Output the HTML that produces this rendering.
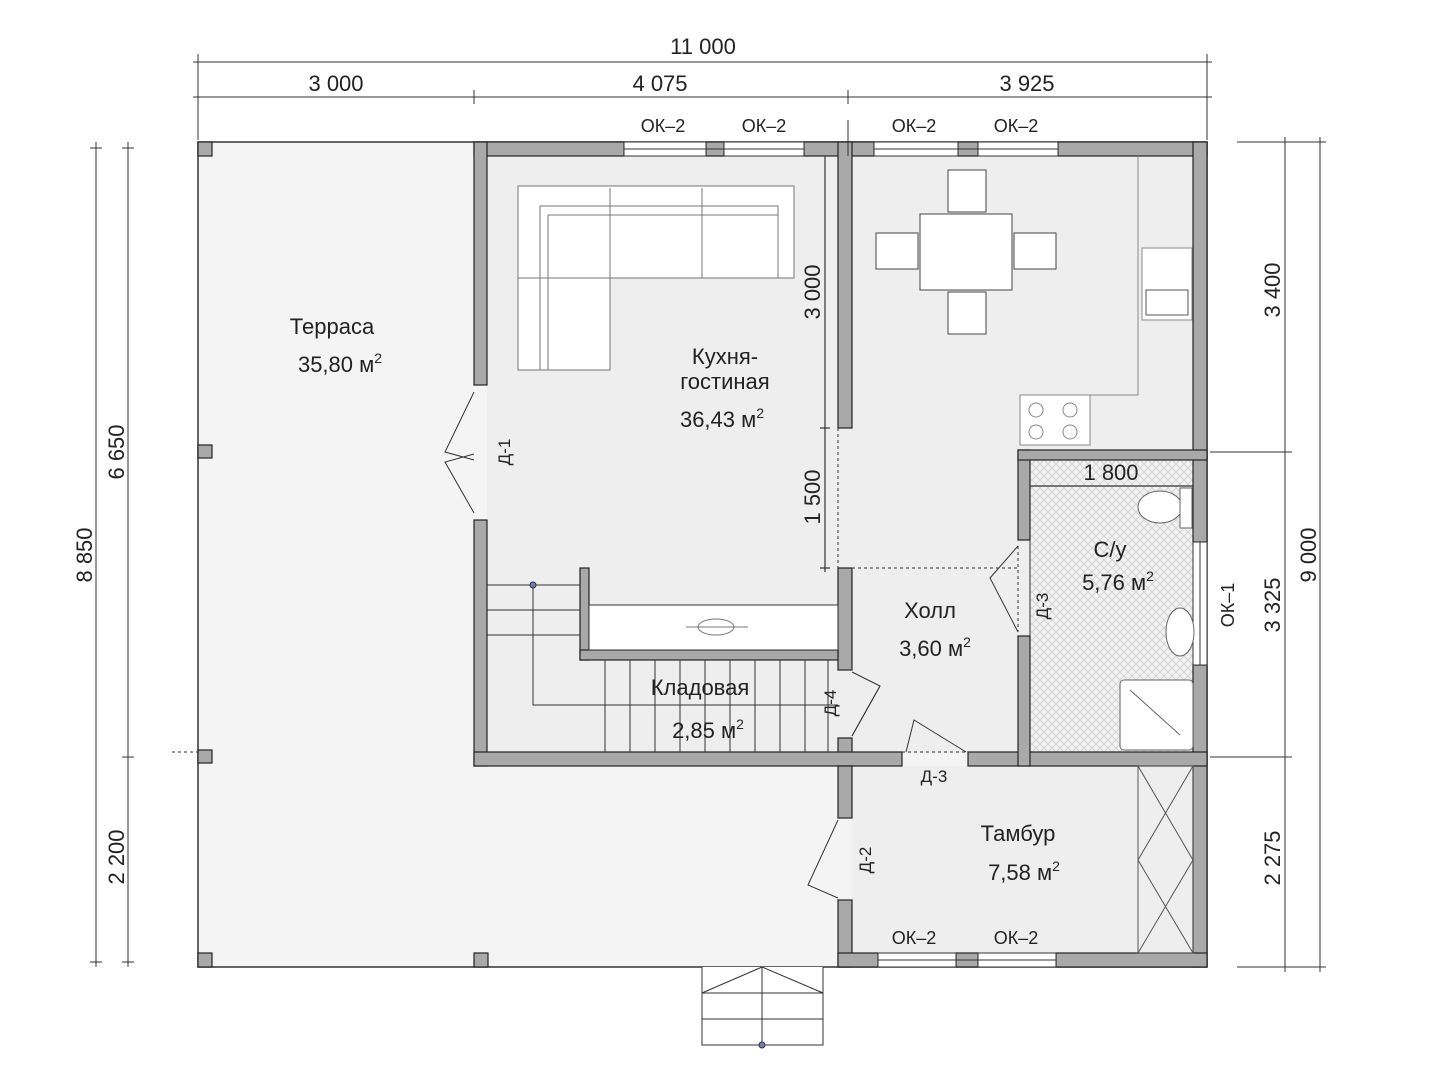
<!DOCTYPE html>
<html><head><meta charset="utf-8"><style>
body{margin:0;background:#fff}
svg{display:block}
text{font-family:"Liberation Sans",sans-serif;fill:#222}
</style></head><body>
<svg width="1440" height="1080" viewBox="0 0 1440 1080" xmlns="http://www.w3.org/2000/svg">
<defs>
<pattern id="hatch" width="8" height="8" patternUnits="userSpaceOnUse">
<rect width="8" height="8" fill="#f2f2f2"/>
<path d="M0 0L8 8M8 0L0 8" stroke="#c8c8c8" stroke-width="0.7"/>
</pattern>
</defs>
<rect x="198" y="142" width="1009" height="825" fill="#f4f4f4" stroke="#333" stroke-width="1.5"/>
<rect x="487" y="156" width="706" height="597" fill="#eeeeee"/>
<rect x="852" y="766" width="341" height="187" fill="#eeeeee"/>
<rect x="1030" y="460" width="163" height="292" fill="url(#hatch)"/>
<rect x="1030" y="460" width="163" height="292" fill="none" stroke="#333"/>
<g fill="#a9a9a9" stroke="#222" stroke-width="1.2">
<rect x="474" y="142" width="150" height="14"/>
<rect x="706" y="142" width="18" height="14"/>
<rect x="804" y="142" width="70" height="14"/>
<rect x="958" y="142" width="20" height="14"/>
<rect x="1058" y="142" width="149" height="14"/>
<rect x="474" y="142" width="13" height="243"/>
<rect x="474" y="520" width="13" height="246"/>
<rect x="1193" y="142" width="14" height="400"/>
<rect x="1193" y="665" width="14" height="302"/>
<rect x="838" y="142" width="14" height="286"/>
<rect x="838" y="568" width="14" height="102"/>
<rect x="838" y="738" width="14" height="28"/>
<rect x="474" y="752" width="428" height="14"/>
<rect x="968" y="752" width="239" height="14"/>
<rect x="1018" y="450" width="12" height="90"/>
<rect x="1018" y="450" width="189" height="10"/>
<rect x="1018" y="636" width="12" height="130"/>
<rect x="838" y="766" width="14" height="52"/>
<rect x="838" y="900" width="14" height="67"/>
<rect x="838" y="953" width="40" height="14"/>
<rect x="956" y="953" width="22" height="14"/>
<rect x="1056" y="953" width="151" height="14"/>
<rect x="580" y="568" width="9" height="92"/>
<rect x="580" y="650" width="258" height="10"/>
<rect x="198" y="142" width="14" height="14"/>
<rect x="198" y="445" width="14" height="13"/>
<rect x="198" y="750" width="14" height="13"/>
<rect x="198" y="953" width="14" height="14"/>
<rect x="474" y="953" width="14" height="14"/>
</g>
<g fill="#fff" stroke="#333" stroke-width="1">
<rect x="624" y="142" width="82" height="14"/><rect x="724" y="142" width="80" height="14"/>
<rect x="874" y="142" width="84" height="14"/><rect x="978" y="142" width="80" height="14"/>
<rect x="878" y="953" width="78" height="14"/><rect x="978" y="953" width="78" height="14"/>
<rect x="1193" y="542" width="14" height="123"/>
</g>
<g stroke="#333" stroke-width="1">
<line x1="624" y1="149" x2="804" y2="149"/><line x1="874" y1="149" x2="1058" y2="149"/>
<line x1="878" y1="960" x2="1056" y2="960"/><line x1="1200" y1="542" x2="1200" y2="665"/>
</g>
<g font-size="18" text-anchor="middle">
<text x="663" y="132">ОК–2</text><text x="764" y="132">ОК–2</text>
<text x="914" y="132">ОК–2</text><text x="1016" y="132">ОК–2</text>
<text x="914" y="944">ОК–2</text><text x="1016" y="944">ОК–2</text>
<text transform="translate(1234,605) rotate(-90)">ОК–1</text>
</g>
<g fill="none" stroke="#333" stroke-width="1">
<path d="M474 392 L445 452 L474 460"/><path d="M474 513 L445 462 L474 454"/>
<path d="M1018 546 L990 578 L1018 632"/>
<path d="M852 672 L880 686 L852 736"/><path d="M852 736 L880 686"/>
<path d="M906 752 L914 720 L966 752"/>
<path d="M838 820 L808 885 L838 898"/>
<line x1="838" y1="428" x2="838" y2="568" stroke-dasharray="3,3"/>
<line x1="852" y1="568" x2="1018" y2="568" stroke-dasharray="3,3"/>
<line x1="1018" y1="546" x2="1018" y2="632" stroke-dasharray="3,3"/>
<line x1="902" y1="752" x2="968" y2="752" stroke-dasharray="3,3"/>
<line x1="172" y1="752" x2="198" y2="752" stroke-dasharray="3,3"/>
</g>
<g font-size="17" text-anchor="middle">
<text transform="translate(510,452) rotate(-90)">Д-1</text>
<text transform="translate(1048,606) rotate(-90)">Д-3</text>
<text transform="translate(836,703) rotate(-90)">Д-4</text>
<text x="934" y="782">Д-3</text>
<text transform="translate(871,860) rotate(-90)">Д-2</text>
</g>
<g stroke="#333" stroke-width="1" fill="none">
<rect x="589" y="605" width="249" height="45" fill="#fff"/>
<line x1="487" y1="585" x2="580" y2="585"/><line x1="487" y1="610" x2="580" y2="610"/><line x1="487" y1="635" x2="580" y2="635"/>
<polyline points="533,585 533,705 838,705"/>
<line x1="605" y1="660" x2="605" y2="752"/><line x1="630" y1="660" x2="630" y2="752"/><line x1="655" y1="660" x2="655" y2="752"/>
<line x1="680" y1="660" x2="680" y2="752"/><line x1="705" y1="660" x2="705" y2="752"/><line x1="730" y1="660" x2="730" y2="752"/>
<line x1="755" y1="660" x2="755" y2="752"/><line x1="780" y1="660" x2="780" y2="752"/><line x1="805" y1="660" x2="805" y2="752"/>
<line x1="828" y1="660" x2="828" y2="752"/>
<ellipse cx="716" cy="627" rx="18" ry="8" stroke="#777"/><line x1="686" y1="627" x2="748" y2="627" stroke="#777"/>
</g>
<circle cx="533" cy="585" r="3" fill="#6a7fc0" stroke="#333"/>
<g fill="#fff" stroke="#777" stroke-width="1">
<path d="M518 186 H794 V278 H610 V370 H518 Z"/>
<path d="M540 206 H778 V278 H610 V370 H540 Z" fill="none"/>
<line x1="610" y1="188" x2="610" y2="278"/><line x1="702" y1="188" x2="702" y2="278"/>
<line x1="518" y1="278" x2="610" y2="278"/><line x1="548" y1="215" x2="778" y2="215"/><line x1="548" y1="215" x2="548" y2="370"/>
</g>
<g fill="#fff" stroke="#444" stroke-width="1">
<rect x="920" y="214" width="92" height="76"/>
<rect x="948" y="170" width="38" height="42"/><rect x="948" y="292" width="38" height="42"/>
<rect x="876" y="233" width="42" height="36"/><rect x="1014" y="233" width="42" height="36"/>
</g>
<g fill="none" stroke="#888" stroke-width="1">
<polyline points="1138,156 1138,395 1020,395"/>
<rect x="1142" y="248" width="50" height="72" fill="#fff"/>
<rect x="1020" y="395" width="70" height="50" fill="#fff"/>
<circle cx="1036" cy="410" r="7"/><circle cx="1070" cy="410" r="7"/><circle cx="1036" cy="432" r="7"/><circle cx="1070" cy="432" r="7"/>
<path d="M1146 290 H1188 V315 H1146 Z" stroke="#555"/>
</g>
<g fill="#fff" stroke="#666" stroke-width="1">
<ellipse cx="1160" cy="507" rx="22" ry="16"/><rect x="1180" y="488" width="12" height="40"/>
<ellipse cx="1180" cy="632" rx="14" ry="24"/>
<rect x="1120" y="680" width="73" height="70" rx="4"/>
<line x1="1130" y1="690" x2="1180" y2="735"/>
</g>
<g fill="#fff" stroke="#333" stroke-width="1">
<path d="M702 967 V1045 H823 V967"/>
<line x1="702" y1="993" x2="823" y2="993"/><line x1="702" y1="1019" x2="823" y2="1019"/>
<line x1="762" y1="967" x2="762" y2="1045"/><line x1="702" y1="993" x2="762" y2="967"/><line x1="823" y1="993" x2="762" y2="967"/>
</g>
<circle cx="762" cy="1045" r="3" fill="#6a7fc0" stroke="#333"/>
<g fill="none" stroke="#555" stroke-width="1">
<rect x="1138" y="766" width="55" height="187"/>
<line x1="1138" y1="766" x2="1193" y2="860"/><line x1="1193" y1="766" x2="1138" y2="860"/>
<line x1="1138" y1="860" x2="1193" y2="953"/><line x1="1193" y1="860" x2="1138" y2="953"/>
</g>
<g stroke="#333" stroke-width="1.2">
<line x1="825" y1="156" x2="825" y2="572"/><line x1="820" y1="428" x2="830" y2="428"/><line x1="820" y1="568" x2="830" y2="568"/>
<line x1="1030" y1="486" x2="1193" y2="486"/>
</g>
<g font-size="22" text-anchor="middle">
<text transform="translate(820,292) rotate(-90)">3 000</text>
<text transform="translate(820,497) rotate(-90)">1 500</text>
<text x="1111" y="480">1 800</text>
</g>
<g font-size="22" text-anchor="middle">
<text x="332" y="334">Терраса</text><text x="340" y="372">35,80 м<tspan font-size="14" dy="-9">2</tspan></text>
<text x="725" y="364">Кухня-</text><text x="725" y="389">гостиная</text>
<text x="722" y="427">36,43 м<tspan font-size="14" dy="-9">2</tspan></text>
<text x="1110" y="557">С/у</text><text x="1118" y="590">5,76 м<tspan font-size="14" dy="-9">2</tspan></text>
<text x="930" y="618">Холл</text><text x="935" y="656">3,60 м<tspan font-size="14" dy="-9">2</tspan></text>
<text x="700" y="695">Кладовая</text><text x="708" y="738">2,85 м<tspan font-size="14" dy="-9">2</tspan></text>
<text x="1018" y="841">Тамбур</text><text x="1024" y="880">7,58 м<tspan font-size="14" dy="-9">2</tspan></text>
</g>
<g stroke="#333" stroke-width="1">
<line x1="193" y1="62" x2="1212" y2="62"/><line x1="198" y1="54" x2="198" y2="140"/><line x1="1207" y1="54" x2="1207" y2="140"/>
<line x1="193" y1="97" x2="1212" y2="97"/><line x1="474" y1="90" x2="474" y2="104"/><line x1="848" y1="90" x2="848" y2="104"/>
<line x1="848" y1="120" x2="848" y2="156"/>
<line x1="96" y1="142" x2="96" y2="967"/><line x1="128" y1="142" x2="128" y2="967"/>
<line x1="90" y1="148" x2="102" y2="148"/><line x1="90" y1="962" x2="102" y2="962"/>
<line x1="122" y1="148" x2="134" y2="148"/><line x1="122" y1="757" x2="134" y2="757"/><line x1="122" y1="962" x2="134" y2="962"/>
<line x1="1285" y1="137" x2="1285" y2="972"/><line x1="1320" y1="137" x2="1320" y2="972"/>
<line x1="1237" y1="142" x2="1326" y2="142"/><line x1="1210" y1="452" x2="1292" y2="452"/><line x1="1210" y1="757" x2="1292" y2="757"/><line x1="1237" y1="967" x2="1326" y2="967"/>
</g>
<g font-size="22" text-anchor="middle">
<text x="703" y="54">11 000</text>
<text x="336" y="91">3 000</text><text x="660" y="91">4 075</text><text x="1027" y="91">3 925</text>
<text transform="translate(92,555) rotate(-90)">8 850</text>
<text transform="translate(124,452) rotate(-90)">6 650</text>
<text transform="translate(124,857) rotate(-90)">2 200</text>
<text transform="translate(1280,290) rotate(-90)">3 400</text>
<text transform="translate(1280,605) rotate(-90)">3 325</text>
<text transform="translate(1280,858) rotate(-90)">2 275</text>
<text transform="translate(1316,555) rotate(-90)">9 000</text>
</g>
</svg>
</body></html>
